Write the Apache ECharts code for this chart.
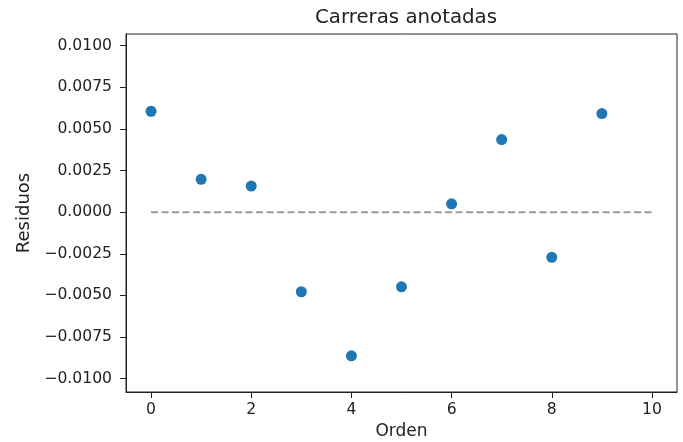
<!DOCTYPE html>
<html><head><meta charset="utf-8">
<script src="https://cdn.jsdelivr.net/npm/echarts@6/dist/echarts.min.js"></script>
<style>html,body{margin:0;padding:0;background:#fff}#c{width:683px;height:442px}</style>
</head><body><div id="c"></div>
<script>
const orden = [0, 1, 2, 3, 4, 5, 6, 7, 8, 9];
const residuos = [0.00606, 0.00197, 0.00157, -0.00478, -0.00863, -0.00448, 0.0005, 0.00436, -0.00271, 0.00592];
const refLineX = [0, 10];
const refLineY = [0, 0];
const xTicks = [0, 2, 4, 6, 8, 10];
const yTicks = [-0.01, -0.0075, -0.005, -0.0025, 0, 0.0025, 0.005, 0.0075, 0.01];

const font = 'DejaVu Sans';
const chart = echarts.init(document.getElementById('c'));
chart.setOption({
  animation: false,
  title: { text: 'Carreras anotadas', left: 401, top: 3, textAlign: 'center',
    textStyle: { fontFamily: font, fontSize: 19.8, fontWeight: 'normal', color: '#222' } },
  grid: { left: 126, right: 6, top: 34, bottom: 50, show: true, borderColor: '#222', borderWidth: 1,
    containLabel: false, outerBoundsMode: 'none' },
  xAxis: {
    type: 'value', min: -0.5, max: 10.5,
    name: 'Orden', nameLocation: 'middle', nameGap: 31,
    nameTextStyle: { fontFamily: font, fontSize: 17, color: '#222' },
    splitLine: { show: false },
    axisLine: { show: true, onZero: false, lineStyle: { color: '#222' } },
    axisTick: { show: true, length: 6, lineStyle: { color: '#222' }, customValues: xTicks },
    axisLabel: { fontFamily: font, fontSize: 15.6, color: '#222', margin: 10, customValues: xTicks,
      formatter: v => String(v) }
  },
  yAxis: {
    type: 'value', min: -0.0108, max: 0.0107,
    name: 'Residuos', nameLocation: 'middle', nameGap: 91, nameRotate: 90,
    nameTextStyle: { fontFamily: font, fontSize: 18, color: '#222' },
    splitLine: { show: false },
    axisLine: { show: true, onZero: false, lineStyle: { color: '#222' } },
    axisTick: { show: true, length: 6, lineStyle: { color: '#222' }, customValues: yTicks },
    axisLabel: { fontFamily: font, fontSize: 15.6, color: '#222', margin: 14, customValues: yTicks,
      formatter: v => (v < 0 ? '\u2212' : '') + Math.abs(v).toFixed(4) }
  },
  series: [
    { type: 'line', data: refLineX.map((x, i) => [x, refLineY[i]]), symbol: 'none',
      lineStyle: { color: '#9a9a9a', width: 2, type: [7, 3.5] }, z: 1 },
    { type: 'scatter', data: orden.map((x, i) => [x, residuos[i]]), symbolSize: 11,
      itemStyle: { color: '#1f77b4', opacity: 1 }, z: 2 }
  ]
});
</script></body></html>
